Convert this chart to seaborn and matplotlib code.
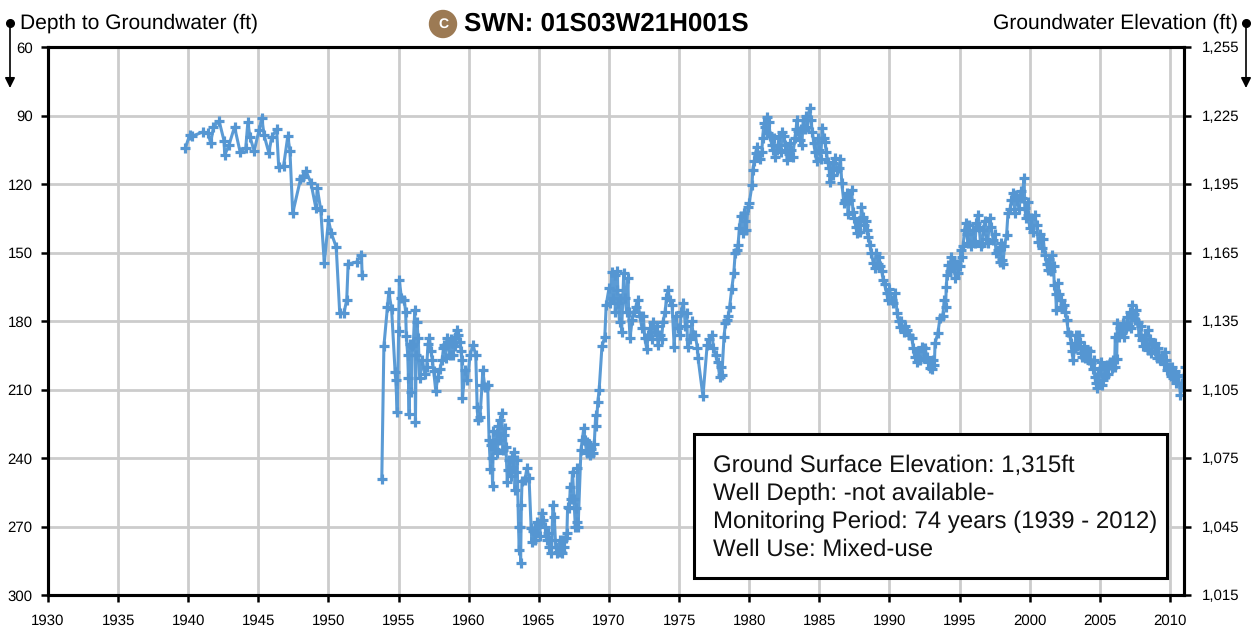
import matplotlib
matplotlib.use("Agg")
import matplotlib.pyplot as plt
import pandas as pd
import seaborn as sns
from matplotlib.patches import Circle, Rectangle

# (decimal year, depth to groundwater in ft)
early_readings = [
    (1939.8, 104.2), (1940.1, 98.5), (1940.3, 99), (1941.05, 97.2), (1941.4, 97.7), (1941.6, 102),
    (1941.8, 95), (1942.2, 92.4), (1942.55, 101), (1942.6, 107.3), (1942.9, 103), (1943.3, 95),
    (1943.7, 106), (1944.1, 104.2), (1944.25, 92.9), (1944.4, 99.4), (1944.7, 105.5), (1945.05, 96.4),
    (1945.25, 91), (1945.4, 98.5), (1945.75, 106.4), (1945.95, 99.4), (1946.3, 96), (1946.45, 112.6),
    (1946.8, 112), (1947.1, 99), (1947.25, 105.5), (1947.45, 132.7), (1948.0, 118), (1948.2, 117),
    (1948.4, 114.3), (1948.75, 119.6), (1949.1, 130.5), (1949.2, 121.8), (1949.45, 131.4), (1949.7, 154.6),
    (1950.0, 135.8), (1950.2, 141.5), (1950.55, 147.6), (1950.8, 176.5), (1951.1, 176.5), (1951.3, 170.8),
    (1951.4, 155), (1952.0, 154.2), (1952.35, 151), (1952.4, 160),
]
readings_1950s = [
    (1953.8, 249.2), (1953.95, 191), (1954.2, 173.9), (1954.3, 167.3), (1954.5, 174.8), (1954.75, 202.4),
    (1954.8, 205.9), (1954.9, 219.9), (1955.0, 184.4), (1955.05, 162), (1955.2, 170), (1955.4, 170.8),
    (1955.5, 176), (1955.55, 186.6), (1955.7, 205), (1955.75, 220.7), (1955.8, 190), (1955.9, 211),
    (1956.15, 175.2), (1956.2, 224.2), (1956.3, 180.4), (1956.4, 187.5), (1956.5, 205), (1957.0, 200),
    (1957.2, 187.5), (1957.4, 197), (1957.65, 210.7), (1957.8, 204.5), (1958.1, 197), (1958.25, 190.5),
    (1958.45, 187.5), (1958.65, 194.9), (1958.9, 189.7), (1959.15, 184), (1959.35, 189), (1959.5, 197),
    (1959.55, 213.7), (1959.75, 201.5),
    (1955.65, 195), (1955.95, 191), (1956.05, 190), (1956.25, 195), (1956.7, 197), (1956.85, 203),
    (1957.1, 190), (1957.3, 193), (1957.5, 202), (1957.95, 201), (1958.2, 192), (1958.35, 196),
    (1958.55, 190), (1958.75, 188), (1958.85, 195), (1959.0, 187), (1959.05, 191), (1959.25, 186),
    (1959.45, 193),
]
readings_1960s = [
    (1959.9, 205.9), (1960.1, 194.9), (1960.3, 190.5), (1960.5, 194.9), (1960.6, 217.7), (1960.65, 223.4),
    (1960.8, 222), (1960.95, 208), (1961.0, 201.5), (1961.15, 209), (1961.35, 208), (1961.55, 244.8),
    (1961.6, 234.3), (1961.7, 252.3), (1961.8, 233.4), (1962.0, 229), (1962.2, 223.4), (1962.35, 220.3),
    (1962.45, 236.5), (1962.6, 226.9), (1962.75, 250.5), (1962.8, 245.3), (1963.1, 240), (1963.25, 237.4),
    (1963.3, 254), (1963.55, 270.2), (1963.6, 280.3), (1963.7, 286), (1963.75, 260.6), (1964.0, 249.7),
    (1964.15, 244.4), (1964.3, 248.8), (1964.45, 270.7), (1964.5, 276.8), (1964.7, 276), (1964.95, 269.4),
    (1965.2, 264), (1965.45, 270), (1965.65, 272.9), (1965.9, 281.6), (1966.0, 260.6), (1966.1, 266),
    (1966.3, 281.6), (1966.65, 281.6), (1966.7, 276), (1967.0, 272.9), (1967.05, 261.5), (1967.25, 252.7),
    (1967.4, 246), (1967.6, 270), (1967.75, 244.4), (1967.8, 270), (1968.0, 236.5), (1968.2, 226.9),
    (1968.45, 233), (1968.65, 238.7), (1968.85, 237.8), (1969.05, 221.2), (1969.2, 215.5), (1969.5, 191),
    (1969.7, 187), (1969.8, 173),
    (1961.45, 232), (1961.65, 240), (1961.75, 228), (1961.9, 236), (1962.05, 238), (1962.1, 226),
    (1962.25, 232), (1962.5, 230), (1962.65, 235), (1962.9, 241), (1963.0, 248), (1963.15, 244),
    (1963.35, 246), (1963.45, 241), (1963.65, 270), (1963.8, 250), (1964.6, 272), (1964.8, 273),
    (1964.85, 268), (1965.05, 274), (1965.3, 267), (1965.55, 276), (1965.75, 279), (1965.85, 276),
    (1966.2, 279), (1966.4, 281), (1966.5, 276), (1966.55, 281), (1966.8, 279), (1966.9, 275),
    (1967.15, 262), (1967.3, 258), (1967.5, 258), (1967.65, 262), (1967.7, 268), (1968.1, 232),
    (1968.3, 232), (1968.4, 238), (1968.55, 234), (1968.75, 236), (1968.95, 234), (1969.1, 226),
    (1969.3, 210),
]
readings_1970s = [
    (1970.0, 165.7), (1970.2, 158.5), (1970.55, 166.4), (1970.75, 180.4), (1970.9, 184.8), (1971.05, 159),
    (1971.35, 161.2), (1971.5, 187.5), (1971.65, 179.6), (1972.05, 170.8), (1972.55, 187.5), (1972.7, 192.4),
    (1973.15, 180.4), (1973.5, 190.5), (1973.85, 180.4), (1974.2, 166.4), (1974.5, 173), (1974.65, 191.4),
    (1975.3, 172.1), (1975.55, 176.5), (1975.6, 191.4), (1976.0, 186), (1976.3, 191.8), (1976.35, 196.2),
    (1976.7, 212.9), (1977.0, 190.5), (1977.6, 195), (1977.9, 204.5), (1978.05, 203.7), (1978.2, 187),
    (1978.4, 179.6), (1978.6, 173.9), (1978.9, 159), (1979.1, 148.9), (1979.2, 146.7), (1979.3, 139.3),
    (1979.55, 141.5), (1979.6, 132.7), (1979.8, 140.2),
    (1970.1, 172), (1970.3, 170), (1970.4, 160), (1970.45, 176), (1970.6, 158), (1970.65, 172),
    (1970.8, 170), (1971.15, 170), (1971.25, 176), (1971.4, 176), (1971.75, 176), (1971.9, 174),
    (1972.2, 178), (1972.35, 183), (1972.45, 178), (1972.8, 186), (1972.95, 183), (1973.05, 188),
    (1973.3, 185), (1973.4, 182), (1973.65, 186), (1973.75, 188), (1974.0, 176), (1974.1, 170),
    (1974.35, 171), (1974.75, 178), (1974.9, 183), (1975.05, 186), (1975.15, 176), (1975.45, 182),
    (1975.8, 188), (1975.9, 180), (1976.15, 186), (1977.15, 188), (1977.35, 186), (1977.45, 192),
    (1977.75, 198), (1978.0, 200), (1978.3, 181), (1978.5, 178), (1978.75, 166), (1979.0, 150),
    (1979.4, 134), (1979.7, 136), (1979.9, 130),
]
readings_1980s = [
    (1980.0, 128.3), (1980.2, 120.4), (1980.25, 113.9), (1980.45, 106.4), (1980.65, 107.3), (1980.9, 106),
    (1981.05, 93.3), (1981.25, 90.7), (1981.35, 97.7), (1981.6, 102.9), (1981.85, 108.2), (1982.35, 97.2),
    (1982.55, 102.9), (1982.7, 109.5), (1983.0, 105), (1983.25, 99.9), (1983.4, 92), (1983.6, 100.7),
    (1983.85, 92), (1984.3, 86.7), (1984.5, 97.2), (1984.7, 106), (1985.0, 105), (1985.2, 95.5),
    (1985.4, 101.6), (1985.6, 110.4), (1985.85, 116), (1986.1, 108.6), (1986.4, 113), (1986.6, 119.6),
    (1986.75, 128.3), (1986.95, 124), (1987.3, 122.6), (1987.4, 132.3), (1987.7, 141.5), (1988.1, 134.5),
    (1988.4, 140.2), (1988.6, 146.7), (1988.85, 154.6), (1989.25, 152), (1989.55, 162), (1989.8, 167.7),
    (1980.35, 110), (1980.55, 104), (1980.75, 109), (1980.95, 100), (1981.15, 95), (1981.4, 93),
    (1981.5, 99), (1981.7, 105), (1981.75, 100), (1981.95, 105), (1982.05, 103), (1982.15, 99),
    (1982.25, 106), (1982.45, 99), (1982.65, 105), (1982.8, 107), (1982.9, 102), (1983.1, 108),
    (1983.35, 96), (1983.5, 97), (1983.7, 96), (1983.75, 103), (1983.95, 96), (1984.05, 90),
    (1984.15, 95), (1984.4, 92), (1984.6, 102), (1984.8, 110), (1984.9, 100), (1985.1, 109),
    (1985.3, 100), (1985.5, 106), (1985.7, 113), (1985.75, 119), (1985.95, 111), (1986.0, 116),
    (1986.25, 114), (1986.5, 109), (1986.85, 127), (1987.05, 133), (1987.15, 127), (1987.5, 135),
    (1987.6, 139), (1987.8, 136), (1987.9, 141), (1988.0, 130), (1988.2, 138), (1988.3, 136),
    (1988.5, 143), (1988.7, 150), (1988.95, 157), (1989.05, 150), (1989.15, 155), (1989.35, 156),
    (1989.45, 158), (1989.65, 164), (1989.9, 171), (1990.0, 166),
]
readings_1990s = [
    (1990.15, 170.8), (1990.4, 167.7), (1990.55, 176.5), (1990.75, 182.6), (1991.25, 184), (1991.6, 187.5),
    (1991.8, 195.8), (1992.15, 197), (1992.3, 191.4), (1992.65, 195.8), (1992.9, 200.6), (1993.2, 199.3),
    (1993.25, 189.6), (1993.45, 185.3), (1993.6, 178.7), (1994.0, 173.9), (1994.05, 165), (1994.2, 155.5),
    (1994.4, 152), (1994.7, 161.2), (1994.9, 159), (1995.15, 152), (1995.45, 137), (1995.6, 145.9),
    (1996.1, 145.9), (1996.3, 133.6), (1996.6, 145.9), (1997.15, 134.9), (1997.4, 144.5), (1997.75, 148.9),
    (1998.0, 153.3), (1998.35, 142.3), (1998.45, 132.7), (1998.8, 124), (1998.95, 132.7), (1999.1, 127),
    (1999.6, 117.4), (1999.65, 130.5), (1999.9, 133.6),
    (1990.25, 172), (1990.65, 180), (1990.85, 180), (1991.0, 185), (1991.1, 182), (1991.4, 186),
    (1991.7, 192), (1991.95, 198), (1992.05, 193), (1992.45, 196), (1992.55, 192), (1992.75, 198),
    (1993.0, 201), (1993.1, 197), (1993.8, 178), (1993.9, 171), (1994.1, 160), (1994.3, 158),
    (1994.5, 157), (1994.6, 154), (1994.8, 155), (1995.0, 156), (1995.1, 149), (1995.25, 147),
    (1995.35, 140), (1995.5, 142), (1995.7, 138), (1995.8, 147), (1995.95, 140), (1996.0, 145),
    (1996.2, 137), (1996.4, 139), (1996.5, 147), (1996.7, 140), (1996.8, 136), (1996.9, 144),
    (1997.0, 146), (1997.25, 139), (1997.5, 142), (1997.6, 150), (1997.85, 154), (1997.95, 146),
    (1998.1, 155), (1998.2, 147), (1998.6, 131), (1998.7, 127), (1999.0, 125), (1999.25, 131),
    (1999.35, 123), (1999.45, 126), (1999.75, 135), (1999.85, 128),
]
readings_2000s = [
    (2000.0, 139.3), (2000.35, 133.6), (2000.6, 145.4), (2001.1, 151), (2001.3, 157.7), (2001.6, 151),
    (2001.75, 164.2), (2001.9, 175), (2002.0, 163.4), (2002.2, 170.8), (2002.45, 173), (2002.65, 179.6),
    (2002.95, 189.6), (2003.1, 197), (2003.3, 186), (2003.6, 189.2), (2003.75, 195.8), (2004.1, 192.7),
    (2004.4, 198.5), (2004.65, 204.5), (2004.8, 209.3), (2005.0, 200.6), (2005.25, 205.9), (2005.5, 199.3),
    (2005.85, 200.6), (2006.1, 187), (2006.2, 196.7), (2006.25, 180.9), (2006.55, 185.3), (2006.95, 178.3),
    (2007.3, 173), (2007.5, 179.6), (2007.7, 180.4), (2008.0, 188.3), (2008.4, 184), (2008.45, 192.7),
    (2008.9, 189.6), (2009.05, 196.2), (2009.65, 193.6), (2009.8, 201.5), (2010.15, 200.2), (2010.25, 205),
    (2010.6, 203.7), (2010.75, 212.3), (2010.95, 209), (2011.1, 200),
    (2000.1, 135), (2000.2, 141), (2000.5, 138), (2000.75, 142), (2000.85, 148), (2000.95, 144),
    (2001.2, 155), (2001.4, 153), (2001.5, 158), (2001.7, 156), (2001.85, 168), (2002.1, 168),
    (2002.3, 174), (2002.55, 176), (2002.75, 185), (2002.85, 186), (2003.0, 193), (2003.2, 192),
    (2003.4, 191), (2003.5, 186), (2003.65, 194), (2003.85, 191), (2003.95, 196), (2004.2, 197),
    (2004.3, 193), (2004.5, 201), (2004.6, 197), (2004.7, 207), (2004.9, 203), (2005.1, 198),
    (2005.15, 208), (2005.35, 201), (2005.4, 204), (2005.6, 203), (2005.7, 198), (2005.95, 197),
    (2006.05, 200), (2006.35, 187), (2006.45, 183), (2006.65, 181), (2006.75, 187), (2006.85, 183),
    (2007.05, 182), (2007.15, 176), (2007.25, 183), (2007.4, 177), (2007.6, 175), (2007.8, 186),
    (2007.9, 182), (2008.1, 191), (2008.2, 186), (2008.3, 190), (2008.55, 188), (2008.65, 194),
    (2008.75, 190), (2008.95, 193), (2009.15, 192), (2009.3, 197), (2009.45, 195), (2009.55, 199),
    (2009.75, 197), (2009.95, 200), (2010.05, 204), (2010.35, 202), (2010.45, 207), (2010.55, 204),
    (2010.85, 207), (2011.0, 204),
]

depth_ticks = [60, 90, 120, 150, 180, 210, 240, 270, 300]
elevation_ticks = [1015, 1045, 1075, 1105, 1135, 1165, 1195, 1225, 1255]
year_ticks = list(range(1930, 2011, 5))
box_lines = [
    "Ground Surface Elevation: 1,315ft",
    "Well Depth: -not available-",
    "Monitoring Period: 74 years (1939 - 2012)",
    "Well Use: Mixed-use",
]

# there is a gap in the record between 1952 and 1953
later_readings = readings_1950s + readings_1960s + readings_1970s + readings_1980s + readings_1990s + readings_2000s
df = pd.DataFrame(
    [(y, d, 1) for y, d in early_readings] + [(y, d, 2) for y, d in later_readings],
    columns=["year", "depth", "run"],
)

sns.set_style("white")
plt.rcParams["font.family"] = ["Liberation Sans", "DejaVu Sans"]
plt.rcParams["text.color"] = "black"
plt.rcParams["text.hinting"] = "no_hinting"
plt.rcParams["text.hinting_factor"] = 1

fig = plt.figure(figsize=(12.54, 6.28), dpi=100)
W, H = 1254, 628
ax = fig.add_axes([48 / W, 1 - 595 / H, (1184 - 48) / W, (595 - 47) / H])

sns.lineplot(
    data=df, x="year", y="depth", units="run", estimator=None, sort=True, ax=ax,
    color="#5B9BD5", linewidth=2.2, marker="+", markersize=7, markeredgewidth=2.3,
    markeredgecolor="#5596D2", zorder=3,
)

ax.set_xlim(1930, 2011)
ax.set_ylim(300, 60)
ax.set_xticks(year_ticks)
ax.set_yticks(depth_ticks)
ax.set_xlabel("")
ax.set_ylabel("")
ax.grid(True, color="#CCCCCC", linewidth=2)
ax.set_axisbelow(True)
ax.tick_params(axis="y", labelsize=11, labelcolor="black", length=5, width=1.8, color="black", pad=6, left=True)
ax.tick_params(axis="x", labelsize=11, labelcolor="black", length=5, width=1.8, color="black", pad=9, bottom=True)
for side in ax.spines.values():
    side.set_linewidth(2.2)
    side.set_color("black")

right = ax.twinx()
right.set_ylim(1015, 1255)
right.set_yticks(elevation_ticks)
right.set_yticklabels([f"{v:,}" for v in elevation_ticks])
right.tick_params(axis="y", labelsize=11, labelcolor="black", length=5, width=1.8, color="black", pad=8, right=True)
right.grid(False)
for side in right.spines.values():
    side.set_linewidth(2.2)
    side.set_color("black")

# headers
fig.text(20 / W, 1 - 23 / H, "Depth to Groundwater (ft)", fontsize=15.3, va="center", ha="left")
fig.text(1238 / W, 1 - 23 / H, "Groundwater Elevation (ft)", fontsize=15.3, va="center", ha="right")
fig.text(464 / W, 1 - 24 / H, "SWN: 01S03W21H001S", fontsize=18.6, fontweight="bold", va="center", ha="left")

# overlay in pixel coordinates for the badge and depth arrows
overlay = fig.add_axes([0, 0, 1, 1], facecolor="none")
overlay.set_xlim(0, W)
overlay.set_ylim(H, 0)
overlay.axis("off")
overlay.add_patch(Circle((443, 24), 13.5, color="#9C7A54", zorder=5))
overlay.text(443, 24.5, "C", color="white", fontsize=10, fontweight="bold", ha="center", va="center", zorder=6)
for arrow_x in (10, 1246):
    overlay.plot([arrow_x], [23], "o", color="black", markersize=5.5)
    overlay.annotate("", xy=(arrow_x, 88), xytext=(arrow_x, 23),
                     arrowprops=dict(arrowstyle="-|>", color="black", lw=1.2, mutation_scale=15, shrinkA=0, shrinkB=0))

# info box
overlay.add_patch(Rectangle((694, 434), 473, 144, facecolor="white", edgecolor="black", linewidth=2.2, zorder=7))
for i, line in enumerate(box_lines):
    overlay.text(713, 465.5 + i * 28, line, fontsize=17.0, ha="left", va="center", color="#111111", zorder=8)

fig.savefig("out.png", dpi=100)
